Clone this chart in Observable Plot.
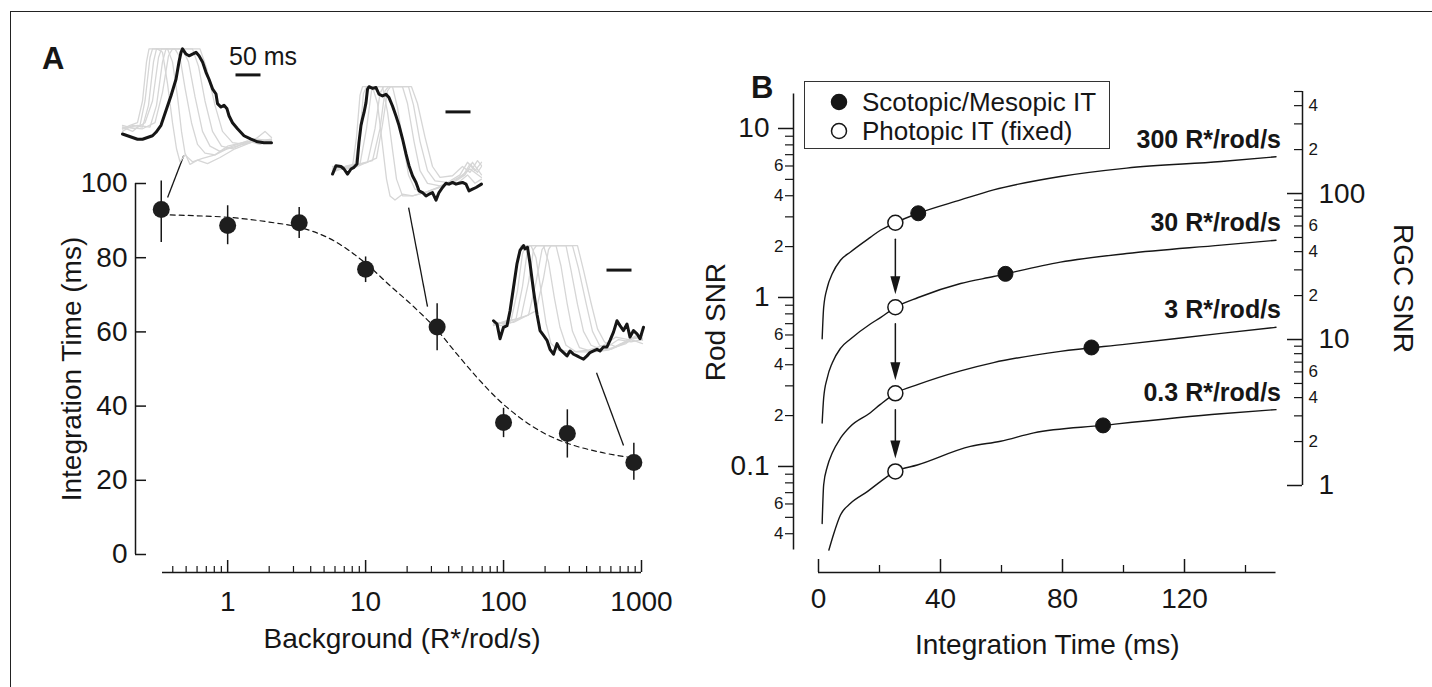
<!DOCTYPE html>
<html><head><meta charset="utf-8">
<script src="https://cdn.jsdelivr.net/npm/d3@7"></script>
<script src="https://cdn.jsdelivr.net/npm/@observablehq/plot@0.6"></script>
<style>
html,body{margin:0;padding:0;background:#fff;}
#fig{position:relative;width:1432px;height:687px;overflow:hidden;font-family:"Liberation Sans",Arial,Helvetica,sans-serif;color:#161616;background:#fff;}
#fig svg{position:absolute;overflow:visible;}
.frame{position:absolute;left:10px;top:11px;width:1440px;height:700px;border-left:1.5px solid #222;border-top:1.5px solid #222;}
.plabel{position:absolute;font-weight:bold;font-size:31px;line-height:30px;}
.legend{position:absolute;left:804px;top:81px;width:306px;height:68px;box-sizing:border-box;border:1.5px solid #333;background:#fff;}
.legend .row{position:absolute;left:0;height:28px;display:flex;align-items:center;font-size:26px;white-space:nowrap;}
.legend svg{position:static !important;margin-left:25px;margin-right:14px;}
</style></head>
<body><div id="fig">
<div class="frame"></div>
<div class="plabel" style="left:42px;top:44px;">A</div>
<div class="plabel" style="left:751px;top:73px;">B</div>
</div>
<script>
const FONT = '"Liberation Sans", Arial, Helvetica, sans-serif';
const INK = "#161616";
const GRAY = "#d6d6d6";

// ---------------- Panel A data ----------------
const background = [0.33, 1, 3.3, 10, 33, 100, 290, 880];
const integrationTime = [93.0, 88.7, 89.4, 76.9, 61.3, 35.6, 32.6, 24.8];
const errLow = [84.1, 83.5, 85.2, 73.3, 54.9, 31.5, 26.0, 20.0];
const errHigh = [100.7, 94.0, 93.5, 80.2, 67.6, 39.4, 39.0, 30.0];
const fitBackground = [0.33, 0.6, 1, 2, 3.3, 5.6, 10, 15, 22, 33, 46, 64, 90, 130, 190, 300, 500, 880];
const fitTime = [91.6, 91.3, 90.9, 89.6, 88.2, 85.0, 78.5, 72.5, 67.0, 60.5, 54.0, 47.8, 42.0, 37.0, 33.0, 29.8, 27.6, 26.0];
const yTicksA = [0, 20, 40, 60, 80, 100];
const xMajorA = [1, 10, 100, 1000];
const xMinorA = [0.4,0.5,0.6,0.7,0.8,0.9, 2,3,4,5,6,7,8,9, 20,30,40,50,60,70,80,90, 200,300,400,500,600,700,800,900];
// leader lines from example traces to points (background, ms)
const leaderFromX = [0.48, 20.5, 472];
const leaderFromY = [107.5, 93.5, 49.0];
const leaderToX = [0.367, 28.1, 741];
const leaderToY = [96.2, 66.8, 29.4];

// ---------------- Inset traces (time ms, normalized response) ----------------
const inset1Black = [[0,0.02],[10,0],[20,-0.02],[30,-0.04],[40,-0.04],[50,-0.02],[60,0],[67,0.04],[77,0.12],[87,0.29],[97,0.46],[107,0.65],[113,0.85],[117,0.96],[120,1],[127,0.94],[133,0.92],[140,0.94],[147,0.96],[153,0.92],[160,0.85],[167,0.73],[173,0.65],[180,0.54],[187,0.48],[190,0.37],[197,0.33],[203,0.35],[209,0.31],[213,0.23],[220,0.15],[230,0.08],[243,0],[257,-0.04],[270,-0.07],[283,-0.08],[298,-0.08]];
const inset1Gray = [
 [[0,0.08],[15,0.12],[30,0.15],[40,0.4],[48,0.85],[53,1],[70,1],[80,0.96],[90,0.6],[100,0.15],[108,-0.15],[115,-0.3],[125,-0.22],[140,-0.3],[160,-0.26],[185,-0.22],[210,-0.12],[240,-0.08],[270,-0.05],[298,-0.06]],
 [[0,0.1],[20,0.05],[35,0.12],[45,0.4],[55,0.9],[60,1],[90,1],[100,0.85],[110,0.45],[118,0.05],[125,-0.2],[135,-0.33],[150,-0.28],[170,-0.32],[195,-0.25],[225,-0.15],[260,-0.07],[298,-0.04]],
 [[0,0.05],[20,0.12],[40,0.1],[52,0.35],[62,0.85],[68,1],[105,1],[115,0.9],[125,0.55],[138,0.15],[150,-0.1],[165,-0.2],[185,-0.22],[210,-0.15],[240,-0.1],[270,-0.06],[298,-0.05]],
 [[0,0.12],[25,0.08],[45,0.15],[60,0.4],[72,0.9],[78,1],[120,1],[132,0.85],[145,0.45],[160,0.05],[175,-0.12],[195,-0.18],[220,-0.12],[250,-0.06],[275,-0.1],[298,-0.04]],
 [[0,0.08],[30,0.12],[55,0.1],[68,0.35],[80,0.85],[87,1],[140,1],[152,0.8],[165,0.4],[180,0.05],[198,-0.12],[220,-0.15],[245,-0.08],[270,-0.04],[298,-0.06]],
 [[0,0.1],[40,0.08],[65,0.15],[80,0.5],[92,0.92],[100,1],[155,1],[168,0.78],[185,0.35],[200,0.05],[220,-0.08],[245,-0.1],[270,-0.02],[285,0.05],[298,-0.02]]
];
const inset2Black = [[0,-0.04],[7,0.06],[17,0.05],[23,0.02],[30,-0.04],[37,0.02],[43,0.04],[49,0.08],[53,0.34],[57,0.54],[60,0.62],[63,0.69],[67,0.81],[70,0.97],[73,1],[80,0.98],[87,0.99],[93,0.91],[100,0.89],[107,0.91],[113,0.87],[120,0.77],[127,0.65],[133,0.54],[140,0.38],[147,0.2],[153,0.06],[160,-0.06],[167,-0.14],[173,-0.24],[180,-0.26],[187,-0.3],[193,-0.28],[200,-0.26],[207,-0.35],[213,-0.26],[220,-0.2],[227,-0.15],[233,-0.16],[240,-0.14],[247,-0.16],[253,-0.15],[260,-0.14],[267,-0.16],[273,-0.24],[280,-0.22],[287,-0.2],[298,-0.16]];
const inset2Gray = [
 [[0,-0.02],[20,0.03],[40,0.05],[48,0.4],[55,0.9],[60,1],[80,1],[90,0.8],[100,0.3],[108,-0.1],[115,-0.3],[125,-0.35],[140,-0.28],[160,-0.3],[190,-0.25],[220,-0.18],[250,-0.15],[270,-0.05],[285,-0.15],[298,-0.1]],
 [[0,0.02],[25,0.05],[45,0.08],[55,0.45],[62,0.92],[68,1],[100,1],[110,0.7],[120,0.25],[128,-0.1],[140,-0.3],[160,-0.3],[185,-0.26],[215,-0.2],[245,-0.12],[275,0.02],[298,-0.08]],
 [[0,0.05],[30,0.02],[55,0.08],[68,0.5],[78,0.95],[85,1],[120,1],[130,0.75],[142,0.3],[152,-0.05],[165,-0.22],[185,-0.26],[210,-0.2],[240,-0.15],[265,-0.05],[280,0.1],[298,-0.05]],
 [[0,0],[35,0.05],[70,0.1],[85,0.5],[95,0.92],[102,1],[140,1],[150,0.8],[163,0.35],[175,0],[190,-0.15],[215,-0.18],[240,-0.12],[262,-0.05],[275,0.08],[290,-0.02],[298,0.05]],
 [[0,0.03],[40,0.06],[80,0.12],[95,0.5],[105,0.95],[112,1],[152,1],[162,0.78],[175,0.35],[190,0],[205,-0.12],[230,-0.14],[255,-0.05],[270,0.1],[285,0],[298,0.1]],
 [[0,0],[50,0.05],[88,0.15],[100,0.55],[110,0.95],[116,1],[158,1],[170,0.8],[185,0.4],[200,0.05],[215,-0.08],[240,-0.06],[260,0.05],[275,-0.02],[290,0.12],[298,0.06]]
];
const inset3Black = [[0,0.08],[7,0.04],[13,-0.14],[20,0],[27,0.02],[33,0.2],[40,0.49],[47,0.78],[53,0.94],[60,1],[63,0.96],[68,0.98],[73,0.78],[80,0.45],[87,0.16],[93,-0.04],[100,-0.1],[107,-0.16],[113,-0.27],[120,-0.33],[127,-0.2],[133,-0.27],[140,-0.31],[147,-0.35],[153,-0.29],[160,-0.33],[167,-0.35],[173,-0.37],[180,-0.39],[187,-0.35],[193,-0.31],[200,-0.29],[207,-0.27],[213,-0.29],[220,-0.24],[227,-0.24],[233,-0.16],[240,-0.06],[247,0.08],[253,0.02],[260,-0.04],[267,0.04],[273,-0.12],[280,-0.04],[287,-0.08],[293,-0.14],[300,0]];
const inset3Gray = [
 [[0,0.05],[15,0.02],[30,0.05],[40,0.4],[48,0.85],[55,1],[75,1],[85,0.85],[95,0.45],[105,0.05],[115,-0.2],[130,-0.28],[160,-0.3],[190,-0.28],[220,-0.22],[245,-0.12],[270,-0.15],[298,-0.12]],
 [[0,0.03],[20,0.06],[35,0.08],[48,0.45],[58,0.9],[64,1],[100,1],[110,0.8],[122,0.35],[133,0],[145,-0.22],[165,-0.3],[195,-0.3],[225,-0.25],[250,-0.15],[275,-0.18],[298,-0.15]],
 [[0,0.02],[25,0.08],[45,0.1],[58,0.5],[68,0.95],[73,1],[125,1],[135,0.75],[147,0.3],[158,-0.05],[172,-0.25],[200,-0.3],[230,-0.28],[255,-0.2],[280,-0.16],[298,-0.2]],
 [[0,0.06],[30,0.04],[55,0.12],[70,0.55],[80,0.95],[86,1],[145,1],[155,0.7],[168,0.28],[180,-0.05],[195,-0.22],[220,-0.28],[245,-0.24],[270,-0.15],[298,-0.1]],
 [[0,0.04],[35,0.08],[70,0.15],[85,0.55],[97,0.95],[103,1],[158,1],[170,0.72],[185,0.3],[198,-0.05],[212,-0.22],[235,-0.27],[260,-0.2],[280,-0.12],[298,-0.14]],
 [[0,0.05],[40,0.06],[85,0.2],[100,0.6],[110,0.95],[115,1],[168,1],[180,0.7],[195,0.3],[208,-0.02],[222,-0.18],[245,-0.24],[265,-0.2],[285,-0.1],[298,-0.16]]
];
const scaleBarMs = [227, 277];   // a 50 ms bar
const scaleBarLevel = 0.7;

// ---------------- Panel B data ----------------
const curveLabels = ["300 R*/rod/s", "30 R*/rod/s", "3 R*/rod/s", "0.3 R*/rod/s"];
const timeMs = [1.2, 1.7, 2.9, 4.5, 7.2, 10.5, 17, 20.3, 25.2, 32.7, 46.6, 57.4, 79.3, 101, 132, 150];
const snr300 = [0.57, 0.875, 1.15, 1.38, 1.66, 1.86, 2.27, 2.5, 2.77, 3.15, 3.78, 4.33, 5.2, 5.83, 6.38, 6.8];
const snr30 = [0.181, 0.255, 0.336, 0.41, 0.5, 0.568, 0.697, 0.76, 0.875, 1.0, 1.21, 1.33, 1.62, 1.82, 2.04, 2.18];
const snr3 = [0.046, 0.078, 0.1, 0.12, 0.147, 0.173, 0.208, 0.233, 0.271, 0.306, 0.368, 0.412, 0.48, 0.53, 0.613, 0.666];
const timeMs03 = [3.4, 5.0, 7.2, 10.5, 16, 20.3, 25.2, 32.4, 49.8, 59.7, 70.6, 93.3, 132, 150];
const snr03 = [0.032, 0.040, 0.0516, 0.0605, 0.071, 0.0814, 0.0935, 0.102, 0.1315, 0.141, 0.158, 0.175, 0.205, 0.217];
const scotopicIT = [32.7, 61.3, 89.5, 93.3];
const scotopicSNR = [3.15, 1.38, 0.506, 0.175];
const photopicIT = [25.2, 25.2, 25.2, 25.2];
const photopicSNR = [2.77, 0.875, 0.271, 0.0935];
const xMajorB = [0, 40, 80, 120];
const xMinorB = [20, 60, 100, 140];
const rodMajor = [0.1, 1, 10];
const rodMajorLabels = ["0.1", "1", "10"];
const rodMinorLabeled = [0.04, 0.06, 0.2, 0.4, 0.6, 2, 4, 6];
const rodMinorText = ["4", "6", "2", "4", "6", "2", "4", "6"];
const rodMinorOther = [0.05, 0.07, 0.08, 0.09, 0.3, 0.5, 0.7, 0.8, 0.9, 3, 5, 7, 8, 9];
const rgcMajor = [1, 10, 100];
const rgcMajorLabels = ["1", "10", "100"];
const rgcMinorLabeled = [2, 4, 6, 20, 40, 60, 200, 400];
const rgcMinorText = ["2", "4", "6", "2", "4", "6", "2", "4"];
const rgcMinorOther = [3, 5, 7, 8, 9, 30, 50, 70, 80, 90, 300, 500];

const fig = document.getElementById("fig");
function place(svg, left, top) {
  svg.style.left = left + "px";
  svg.style.top = top + "px";
  fig.appendChild(svg);
}
const baseStyle = {fontFamily: FONT, fontSize: "28px", color: INK, background: "transparent", overflow: "visible"};

// ---------------- Panel A ----------------
{
  const W = 700, H = 687, ml = 162, mr = 59, mt = 183, mb = 133;
  const fw = W - ml - mr, fh = H - mt - mb;
  const pts = background.map((x, i) => ({x, y: integrationTime[i], lo: errLow[i], hi: errHigh[i]}));
  const fit = fitBackground.map((x, i) => ({x, y: fitTime[i]}));
  const leaders = leaderFromX.map((x, i) => ({x1: x, y1: leaderFromY[i], x2: leaderToX[i], y2: leaderToY[i]}));
  const xd = [0.337, 1000];
  const svg = Plot.plot({
    width: W, height: H, marginLeft: ml, marginRight: mr, marginTop: mt, marginBottom: mb,
    style: baseStyle,
    x: {type: "log", domain: xd, axis: null},
    y: {domain: [0, 100], axis: null},
    marks: [
      // y axis (offset to the left, ticks pointing inward)
      Plot.ruleX([xd[0]], {y1: 0, y2: 100, dx: -27, stroke: INK, strokeWidth: 1.5}),
      Plot.tickY(yTicksA, {y: d => d, dx: -27, insetRight: fw - 11, stroke: INK, strokeWidth: 1.5}),
      Plot.text(yTicksA, {y: d => d, text: d => String(d), frameAnchor: "left", dx: -27 - 8, textAnchor: "end", lineAnchor: "middle", fontSize: 28, fill: INK}),
      Plot.text(["Integration Time (ms)"], {frameAnchor: "left", dx: 72 - ml, rotate: -90, textAnchor: "middle", lineAnchor: "middle", fontSize: 28, fill: INK}),
      // x axis (offset below, ticks pointing up)
      Plot.ruleY([0], {x1: xd[0], x2: xd[1], dy: 18, stroke: INK, strokeWidth: 1.5}),
      Plot.tickX(xMajorA, {x: d => d, dy: 18, insetTop: fh - 12, stroke: INK, strokeWidth: 1.5}),
      Plot.tickX(xMinorA, {x: d => d, dy: 18, insetTop: fh - 6, stroke: INK, strokeWidth: 1.2}),
      Plot.text(xMajorA, {x: d => d, text: d => String(d), frameAnchor: "bottom", dy: 602 - (H - mb), textAnchor: "middle", lineAnchor: "middle", fontSize: 28, fill: INK}),
      Plot.text(["Background (R*/rod/s)"], {frameAnchor: "bottom", dy: 639 - (H - mb), textAnchor: "middle", lineAnchor: "middle", fontSize: 28, fill: INK}),
      // fit, error bars, points
      Plot.line(fit, {x: "x", y: "y", stroke: INK, strokeWidth: 1.2, strokeDasharray: "5,4", curve: "monotone-x"}),
      Plot.ruleX(pts, {x: "x", y1: "lo", y2: "hi", stroke: INK, strokeWidth: 1.5}),
      Plot.dot(pts, {x: "x", y: "y", r: 8.5, fill: "#1e1e1e", stroke: null}),
      Plot.link(leaders, {x1: "x1", y1: "y1", x2: "x2", y2: "y2", stroke: INK, strokeWidth: 1.3})
    ]
  });
  place(svg, 0, 0);
}

// ---------------- Insets ----------------
function inset(gray, black, left, top, pxPerUnit, withText) {
  const rd = [-0.4, 1.05];
  const H = (rd[1] - rd[0]) * pxPerUnit;
  const W = 180; // 0.5 px per ms over 360 ms
  const grayRows = gray.flatMap((tr, k) => tr.map(([t, r]) => ({t, r, k})));
  const blackRows = black.map(([t, r]) => ({t, r}));
  const marks = [
    Plot.line(grayRows, {x: "t", y: "r", z: "k", stroke: GRAY, strokeWidth: 1.3}),
    Plot.line(blackRows, {x: "t", y: "r", stroke: INK, strokeWidth: 3, strokeLinejoin: "round"}),
    Plot.ruleY([scaleBarLevel], {x1: scaleBarMs[0], x2: scaleBarMs[1], stroke: INK, strokeWidth: 3})
  ];
  if (withText) marks.push(Plot.text(["50 ms"], {x: 213, y: 0.905, textAnchor: "start", lineAnchor: "middle", fontSize: 25, fill: INK}));
  const svg = Plot.plot({
    width: W, height: H, margin: 0,
    style: baseStyle,
    x: {domain: [0, 360], axis: null},
    y: {domain: rd, axis: null},
    marks
  });
  place(svg, left, top);
}
inset(inset1Gray, inset1Black, 121.7, 44.0, 86.9, true);
inset(inset2Gray, inset2Black, 331.7, 81.8, 84.0, false);
inset(inset3Gray, inset3Black, 493.3, 240.9, 81.7, false);

// ---------------- Panel B ----------------
{
  const L = 700, W = 732, H = 687, ml = 118, mr = 156.5, mt = 93.5, mb = 137.4;
  const fw = W - ml - mr, fh = H - mt - mb;
  const yd = [0.032, 16];
  const curves = [
    {label: curveLabels[0], t: timeMs, s: snr300},
    {label: curveLabels[1], t: timeMs, s: snr30},
    {label: curveLabels[2], t: timeMs, s: snr3},
    {label: curveLabels[3], t: timeMs03, s: snr03}
  ];
  const rows = curves.flatMap(c => c.t.map((t, i) => ({series: c.label, t, snr: c.s[i]})));
  const ends = curves.map(c => ({label: c.label, t: c.t[c.t.length - 1], snr: c.s[c.s.length - 1]}));
  const filled = scotopicIT.map((t, i) => ({t, snr: scotopicSNR[i]}));
  const open = photopicIT.map((t, i) => ({t, snr: photopicSNR[i]}));
  const arrows = open.slice(0, -1).map((d, i) => ({t: d.t, from: d.snr, to: open[i + 1].snr}));
  const head = {draw(ctx) { ctx.moveTo(-5, -18); ctx.lineTo(5, -18); ctx.lineTo(0, 0); ctx.closePath(); }};
  const svg = Plot.plot({
    width: W, height: H, marginLeft: ml, marginRight: mr, marginTop: mt, marginBottom: mb,
    style: baseStyle,
    x: {domain: [0, 150], axis: null},
    y: {type: "log", domain: yd, axis: null},
    marks: [
      // left y axis (offset left of the frame, ticks outward)
      Plot.ruleX([0], {y1: yd[0], y2: yd[1], dx: -25, stroke: INK, strokeWidth: 1.5}),
      Plot.tickY(rodMajor, {y: d => d, dx: -40, insetRight: fw - 15, stroke: INK, strokeWidth: 1.5}),
      Plot.tickY(rodMinorLabeled.concat(rodMinorOther), {y: d => d, dx: -33, insetRight: fw - 8, stroke: INK, strokeWidth: 1.2}),
      Plot.text(rodMajor, {y: d => d, text: (d, i) => rodMajorLabels[i], frameAnchor: "left", dx: -49, textAnchor: "end", lineAnchor: "middle", fontSize: 28, fill: INK}),
      Plot.text(rodMinorLabeled, {y: d => d, text: (d, i) => rodMinorText[i], frameAnchor: "left", dx: -35, textAnchor: "end", lineAnchor: "middle", fontSize: 17, fill: INK}),
      Plot.text(["Rod SNR"], {frameAnchor: "left", dx: 716 - (L + ml), rotate: -90, textAnchor: "middle", lineAnchor: "middle", fontSize: 28, fill: INK}),
      // x axis
      Plot.ruleY([yd[0]], {x1: 0, x2: 150, dy: 22.4, stroke: INK, strokeWidth: 1.5}),
      Plot.tickX(xMajorB, {x: d => d, dy: 22.4, insetTop: fh - 13, stroke: INK, strokeWidth: 1.5}),
      Plot.tickX(xMinorB, {x: d => d, dy: 22.4, insetTop: fh - 7, stroke: INK, strokeWidth: 1.3}),
      Plot.text(xMajorB, {x: d => d, text: d => String(d), frameAnchor: "bottom", dy: 599 - (H - mb), textAnchor: "middle", lineAnchor: "middle", fontSize: 28, fill: INK}),
      Plot.text(["Integration Time (ms)"], {frameAnchor: "bottom", dy: 645 - (H - mb), textAnchor: "middle", lineAnchor: "middle", fontSize: 28, fill: INK}),
      // curves
      Plot.line(rows, {x: "t", y: "snr", z: "series", stroke: INK, strokeWidth: 1.4, curve: "monotone-x"}),
      Plot.text(ends, {x: "t", y: "snr", text: "label", textAnchor: "end", lineAnchor: "middle", dx: 5, dy: -17, fontSize: 25, fontWeight: "bold", fill: INK}),
      // arrows
      Plot.arrow(arrows, {x1: "t", y1: "from", x2: "t", y2: "to", headLength: 0, insetStart: 16.5, insetEnd: 30, stroke: INK, strokeWidth: 1.5}),
      Plot.dot(arrows, {x: "t", y: "to", symbol: head, r: 5, dy: -13, fill: INK, stroke: null}),
      // markers
      Plot.dot(filled, {x: "t", y: "snr", r: 7.5, fill: INK, stroke: INK, strokeWidth: 1}),
      Plot.dot(open, {x: "t", y: "snr", r: 7.5, fill: "white", stroke: INK, strokeWidth: 1.5})
    ]
  });
  place(svg, L, 0);
}

// ---------------- Right (RGC SNR) axis ----------------
{
  const L = 1240, W = 140, H = 687, ml = 47, mr = 78, mt = 91, mb = 202;
  const fw = W - ml - mr;
  const yd = [1, 500];
  const svg = Plot.plot({
    width: W, height: H, marginLeft: ml, marginRight: mr, marginTop: mt, marginBottom: mb,
    style: baseStyle,
    x: {domain: [0, 1], axis: null},
    y: {type: "log", domain: yd, axis: null},
    marks: [
      Plot.ruleX([1], {y1: yd[0], y2: yd[1], stroke: INK, strokeWidth: 1.5}),
      Plot.tickY(rgcMajor, {y: d => d, stroke: INK, strokeWidth: 1.5}),
      Plot.tickY(rgcMinorLabeled.concat(rgcMinorOther), {y: d => d, insetLeft: fw - 8, stroke: INK, strokeWidth: 1.2}),
      Plot.text(rgcMajor, {y: d => d, text: (d, i) => rgcMajorLabels[i], frameAnchor: "right", dx: 16, textAnchor: "start", lineAnchor: "middle", fontSize: 28, fill: INK}),
      Plot.text(rgcMinorLabeled, {y: d => d, text: (d, i) => rgcMinorText[i], frameAnchor: "right", dx: 6, textAnchor: "start", lineAnchor: "middle", fontSize: 17, fill: INK}),
      Plot.text(["RGC SNR"], {frameAnchor: "right", dx: 100, rotate: 90, textAnchor: "middle", lineAnchor: "middle", fontSize: 28, fill: INK})
    ]
  });
  place(svg, L, 0);
}

// ---------------- Legend ----------------
{
  const legendItems = ["Scotopic/Mesopic IT", "Photopic IT (fixed)"];
  const legendFill = [INK, "white"];
  const box = document.createElement("div");
  box.className = "legend";
  legendItems.forEach((label, i) => {
    const row = document.createElement("div");
    row.className = "row";
    row.style.top = (6 + i * 29) + "px";
    row.innerHTML = `<svg width="18" height="18" viewBox="-9 -9 18 18"><circle r="7.5" fill="${legendFill[i]}" stroke="${INK}" stroke-width="1.5"/></svg><span>${label}</span>`;
    box.appendChild(row);
  });
  fig.appendChild(box);
}
</script>
</body></html>
